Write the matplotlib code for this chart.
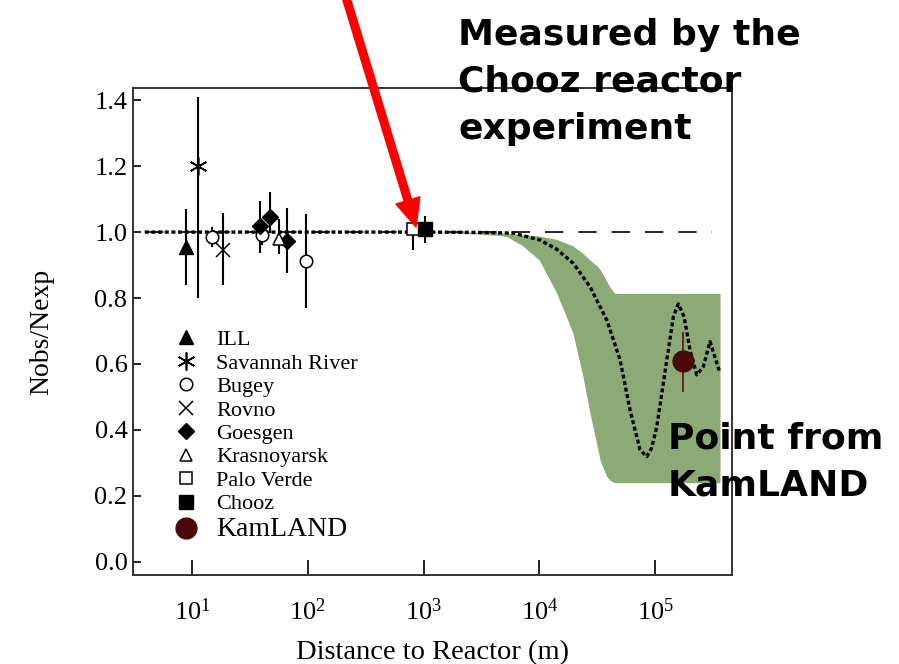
import numpy as np
import matplotlib
matplotlib.use('Agg')
import matplotlib.pyplot as plt
from matplotlib.ticker import LogFormatterMathtext, NullLocator, FixedLocator

plt.rcParams['font.family'] = 'Liberation Serif'
plt.rcParams['mathtext.fontset'] = 'stix'

# reactor experiments: distance (m), ratio, lower / upper error
ill_x, ill_y, ill_lo, ill_hi = [8.9], [0.955], [0.115], [0.115]
sr_x, sr_y, sr_lo, sr_hi = [11.3], [1.20], [0.40], [0.21]
bugey_x, bugey_y = [14.8, 40.0, 96.6], [0.986, 0.99, 0.913]
bugey_lo, bugey_hi = [0.03, 0.03, 0.143], [0.03, 0.03, 0.142]
rovno_x, rovno_y, rovno_lo, rovno_hi = [18.4], [0.947], [0.108], [0.111]
goes_x, goes_y = [38.6, 47.2, 65.8], [1.019, 1.046, 0.974]
goes_lo, goes_hi = [0.082, 0.05, 0.099], [0.076, 0.076, 0.10]
kras_x, kras_y, kras_lo, kras_hi = [55.8], [0.978], [0.043], [0.062]
pv_x, pv_y, pv_lo, pv_hi = [817], [1.009], [0.062], [0.037]
chooz_x, chooz_y, chooz_lo, chooz_hi = [1030], [1.009], [0.043], [0.04]
kam_x, kam_y, kam_lo, kam_hi = [1.76e5], [0.609], [0.093], [0.089]

# allowed region band
band_x = [3.16, 1000, 2512, 4571, 5248, 7079, 10000, 14125, 19498, 23878,
          27416, 31623, 33497, 38019, 40832, 43351, 44668, 46774, 364000]
band_hi = [1.0, 1.0, 1.0, 0.998, 0.997, 0.992, 0.988, 0.978, 0.958, 0.935,
           0.915, 0.897, 0.887, 0.852, 0.832, 0.821, 0.815, 0.814, 0.814]
band_lo = [1.0, 1.0, 0.995, 0.99, 0.986, 0.96, 0.915, 0.815, 0.694, 0.56,
           0.45, 0.35, 0.309, 0.26, 0.248, 0.242, 0.24, 0.24, 0.24]

# best fit oscillation curve
curve_x = [3.9, 1000, 3000, 5929, 10140, 14125, 19680, 27420, 38280, 49890,
           60810, 74130, 84720, 93300, 103500, 126200, 143900, 158900,
           178200, 200400, 229100, 261200, 298500, 341200, 363900]
curve_y = [1.0, 1.0, 0.999, 0.997, 0.976, 0.948, 0.905, 0.834, 0.733, 0.612,
           0.46, 0.34, 0.319, 0.345, 0.41, 0.612, 0.743, 0.782, 0.743,
           0.642, 0.567, 0.592, 0.668, 0.603, 0.573]

ref_x = [3.9, 3.1e5]
ref_y = [1.0, 1.0]

fig = plt.figure(figsize=(8.99, 6.64), dpi=100)
ax = fig.add_axes([0.148, 0.134, 0.666, 0.733])

ax.fill_between(band_x, band_lo, band_hi, color='#8caa76', lw=0, zorder=1)
ax.plot(ref_x, ref_y, color='black', lw=1.2, dashes=(11, 9), zorder=2)
ax.plot(curve_x, curve_y, color='black', lw=2.4, dashes=(1.2, 0.8), zorder=3)

bar_kw = dict(fmt='none', ecolor='black', elinewidth=1.5, capsize=0, zorder=4)
ax.errorbar(ill_x, ill_y, yerr=[ill_lo, ill_hi], **bar_kw)
ax.errorbar(sr_x, sr_y, yerr=[sr_lo, sr_hi], **bar_kw)
ax.errorbar(bugey_x, bugey_y, yerr=[bugey_lo, bugey_hi], **bar_kw)
ax.errorbar(rovno_x, rovno_y, yerr=[rovno_lo, rovno_hi], **bar_kw)
ax.errorbar(goes_x, goes_y, yerr=[goes_lo, goes_hi], **bar_kw)
ax.errorbar(kras_x, kras_y, yerr=[kras_lo, kras_hi], **bar_kw)
ax.errorbar(pv_x, pv_y, yerr=[pv_lo, pv_hi], **bar_kw)
ax.errorbar(chooz_x, chooz_y, yerr=[chooz_lo, chooz_hi], **bar_kw)
ax.errorbar(kam_x, kam_y, yerr=[kam_lo, kam_hi], fmt='none', ecolor='#5a1010',
            elinewidth=1.2, capsize=0, zorder=4)

mk = dict(ls='none', zorder=5)
h = []
h += ax.plot(ill_x, ill_y, marker='^', ms=10, mfc='black', mec='black', label='ILL', **mk)
h += ax.plot(sr_x, sr_y, marker=(6, 2, 0), ms=13, mec='black', mew=1.2, label='Savannah River', **mk)
h += ax.plot(bugey_x, bugey_y, marker='o', ms=9, mfc='white', mec='black', mew=1.1, label='Bugey', **mk)
h += ax.plot(rovno_x, rovno_y, marker='x', ms=10, mec='black', mew=1.1, label='Rovno', **mk)
h += ax.plot(goes_x, goes_y, marker='D', ms=8, mfc='black', mec='black', label='Goesgen', **mk)
h += ax.plot(kras_x, kras_y, marker='^', ms=9, mfc='white', mec='black', mew=1.1, label='Krasnoyarsk', **mk)
h += ax.plot(pv_x, pv_y, marker='s', ms=9, mfc='white', mec='black', mew=1.1, label='Palo Verde', **mk)
h += ax.plot(chooz_x, chooz_y, marker='s', ms=10, mfc='black', mec='black', label='Chooz', **mk)
h += ax.plot(kam_x, kam_y, marker='o', ms=15, mfc='#4b0a0a', mec='#4b0a0a', label='KamLAND', **mk)

leg = ax.legend(handles=h, loc='upper left', bbox_to_anchor=(0.052, 0.527), frameon=False,
                fontsize=16, handlelength=1.0, handletextpad=0.85, labelspacing=0.13,
                borderpad=0)
leg.get_texts()[-1].set_fontsize(20)

ax.set_xscale('log')
ax.set_xlim(3.09, 4.6e5)
ax.set_ylim(-0.04, 1.436)
ax.xaxis.set_major_locator(FixedLocator([1e1, 1e2, 1e3, 1e4, 1e5]))
ax.xaxis.set_major_formatter(LogFormatterMathtext())
ax.xaxis.set_minor_locator(NullLocator())
ax.set_yticks(np.arange(0, 1.41, 0.2))
ax.set_yticklabels([f'{v:.1f}' for v in np.arange(0, 1.41, 0.2)])
ax.tick_params(axis='x', direction='in', length=11, width=1.2, labelsize=19, pad=17)
ax.tick_params(axis='y', direction='in', length=6, width=1.2, labelsize=19, pad=4)
for s in ax.spines.values():
    s.set_linewidth(1.4)
    s.set_color('#333333')

ax.set_xlabel('Distance to Reactor (m)', fontsize=20.5, labelpad=11)
ax.set_ylabel('Nobs/Nexp', fontsize=20, labelpad=29)

# red arrow pointing at the Chooz point
ax.annotate('', xy=(416, 437), xycoords='figure pixels',
            xytext=(345, 670), textcoords='figure pixels',
            arrowprops=dict(facecolor='red', edgecolor='red', width=5.5,
                            headwidth=18, headlength=20),
            annotation_clip=False, zorder=10)

note_kw = dict(family='DejaVu Sans', fontweight='bold', fontsize=26,
               color='black', ha='left', va='center', linespacing=1.5, zorder=10)
fig.text(458 / 899, 1 - 82 / 664, 'Measured by the\nChooz reactor\nexperiment', **note_kw)
fig.text(668 / 899, 1 - 462 / 664, 'Point from\nKamLAND', **note_kw)

fig.savefig('out.png', dpi=100)
